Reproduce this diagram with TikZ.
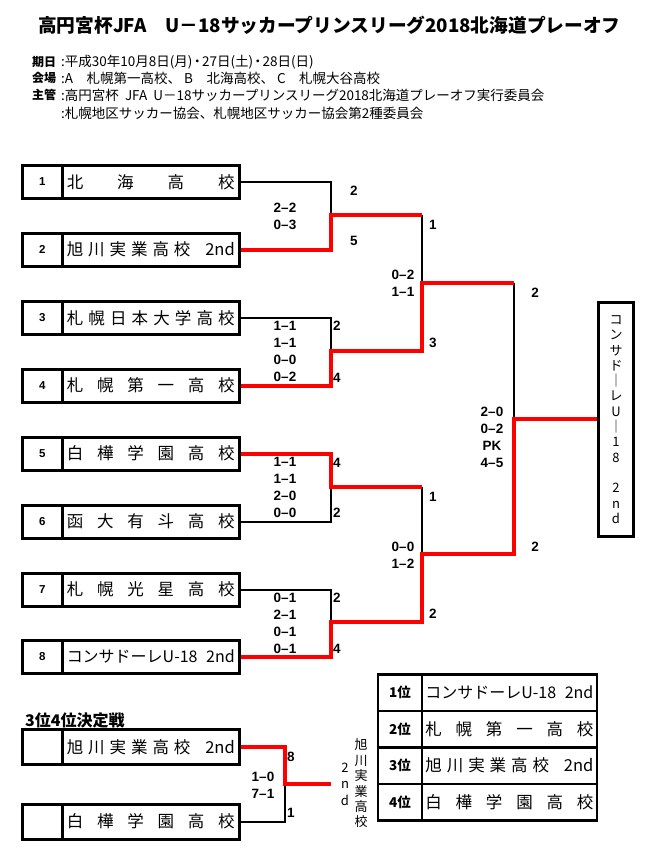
\documentclass[tikz,border=0pt]{standalone}
\usepackage{fontspec}
\setmainfont{Noto Sans CJK JP}
\newfontfamily\latinfont{Liberation Sans}
\newcommand{\spreadname}[1]{\makebox[168pt][s]{#1}}
\newcommand{\consaname}{{\fontsize{16}{18}\selectfont\spreadname{コンサドーレU-18\hfill 2nd}}}

\begin{document}
\begin{tikzpicture}[x=1pt, y=-1pt,
  box/.style={draw, line width=3pt, minimum width=177.5pt, minimum height=33pt,
              inner sep=0pt, font=\fontsize{16.5}{18}\selectfont},
  numcell/.style={draw, line width=3pt, minimum width=39.5pt, minimum height=33pt,
              inner sep=0pt, font=\latinfont\bfseries\fontsize{11.5}{13}\selectfont},
  score/.style={align=center, inner sep=0pt,
              font=\latinfont\bfseries\fontsize{13.5}{17}\selectfont},
  lbl/.style={inner sep=0pt, font=\latinfont\bfseries\fontsize{13.5}{14}\selectfont},
  info/.style={anchor=west, inner sep=0pt, font=\fontsize{13.5}{15}\selectfont},
  vtext/.style={align=center, inner sep=0pt, font=\fontsize{13}{15.4}\selectfont},
  wline/.style={draw=black, line width=2pt},
  rline/.style={draw=winred, line width=4pt}
]
  \definecolor{winred}{HTML}{FF0000}
  \fill[white] (0,0) rectangle (653,855);
  \useasboundingbox (0,0) rectangle (653,855);

  % ================= HEADER =================
  \node[anchor=west, inner sep=0pt, font=\bfseries\fontsize{18.7}{20}\selectfont] (title) at (38,25)
    {高円宮杯JFA　U－18サッカープリンスリーグ2018北海道プレーオフ};
  \node[info, font=\bfseries\fontsize{12}{15}\selectfont] (dateLbl) at (32,62) {期日};
  \node[info] (dateTxt) at (61,62) {:平成30年10月8日(月)\kern-2pt・\kern-2pt27日(土)\kern-2pt・\kern-2pt28日(日)};
  \node[info, font=\bfseries\fontsize{12}{15}\selectfont] (siteLbl) at (32,78) {会場};
  \node[info] (siteTxt) at (61,78) {:A　札幌第一高校、 B　北海高校、 C　札幌大谷高校};
  \node[info, font=\bfseries\fontsize{12}{15}\selectfont] (hostLbl) at (32,95) {主管};
  \node[info] (hostTxt) at (61,95)
    {:高円宮杯\ \ JFA\ \ U－18サッカープリンスリーグ2018北海道プレーオフ実行委員会};
  \node[info] (hostTxtB) at (61,113) {:札幌地区サッカー協会、札幌地区サッカー協会第2種委員会};

  % ================= TEAMS =================
  \node[numcell] (num1) at (42.25,182) {1};
  \node[box] (team1) at (150.75,182) {\spreadname{北\hfill 海\hfill 高\hfill 校}};
  \node[numcell] (num2) at (42.25,249.5) {2};
  \node[box] (team2) at (150.75,249.5)
    {\spreadname{旭\hfill 川\hfill 実\hfill 業\hfill 高\hfill 校\hfill\hfill\hfill 2nd}};
  \node[numcell] (num3) at (42.25,318) {3};
  \node[box] (team3) at (150.75,318)
    {\spreadname{札\hfill 幌\hfill 日\hfill 本\hfill 大\hfill 学\hfill 高\hfill 校}};
  \node[numcell] (num4) at (42.25,385.5) {4};
  \node[box] (team4) at (150.75,385.5)
    {\spreadname{札\hfill 幌\hfill 第\hfill 一\hfill 高\hfill 校}};
  \node[numcell] (num5) at (42.25,453.5) {5};
  \node[box] (team5) at (150.75,453.5)
    {\spreadname{白\hfill 樺\hfill 学\hfill 園\hfill 高\hfill 校}};
  \node[numcell] (num6) at (42.25,521.5) {6};
  \node[box] (team6) at (150.75,521.5)
    {\spreadname{函\hfill 大\hfill 有\hfill 斗\hfill 高\hfill 校}};
  \node[numcell] (num7) at (42.25,589.5) {7};
  \node[box] (team7) at (150.75,589.5)
    {\spreadname{札\hfill 幌\hfill 光\hfill 星\hfill 高\hfill 校}};
  \node[numcell] (num8) at (42.25,656.5) {8};
  \node[box] (team8) at (150.75,656.5) {\consaname};

  % ================= BRACKET =================
  \coordinate (m1) at (331,215);
  \coordinate (m2) at (331,351);
  \coordinate (m3) at (331,487);
  \coordinate (m4) at (331,622);
  \coordinate (s1) at (422,283);
  \coordinate (s2) at (422,554);
  \coordinate (f) at (514,419);

  \node[draw, line width=3pt, minimum width=35pt, minimum height=234pt,
        vtext, font=\fontsize{13}{15.3}\selectfont] (champ) at (616,419.5)
    {コ\\ン\\サ\\ド\\｜\\レ\\U\\｜\\1\\8\\[15.3pt]2\\n\\d};

  \draw[wline] (team1.east) -| (m1);
  \draw[wline] (team3.east) -| (m2);
  \draw[wline] (team6.east) -| (m3);
  \draw[wline] (team7.east) -| (m4);
  \draw[wline] (m1 -| s1) -- (s1);
  \draw[wline] (m3 -| s2) -- (s2);
  \draw[wline] (s1 -| f) -- (f);

  \draw[rline] (team2.east) -| (m1) -- (m1 -| s1);
  \draw[rline] (team4.east) -| (m2) -- (m2 -| s1) -- (s1) -- (s1 -| f);
  \draw[rline] (team5.east) -| (m3) -- (m3 -| s2);
  \draw[rline] (team8.east) -| (m4) -- (m4 -| s2) -- (s2) -| (f) -- (champ.west |- f);

  % scores and goals
  \node[score] (sc1) at (285,216) {2–2\\0–3};
  \node[lbl] (g1a) at (354,191) {2};
  \node[lbl] (g1b) at (354,241) {5};
  \node[score] (sc2) at (285,351.5) {1–1\\1–1\\0–0\\0–2};
  \node[lbl] (g2a) at (337,326) {2};
  \node[lbl] (g2b) at (337,378) {4};
  \node[score] (sc3) at (285,487.5) {1–1\\1–1\\2–0\\0–0};
  \node[lbl] (g3a) at (337,463) {4};
  \node[lbl] (g3b) at (337,513) {2};
  \node[score] (sc4) at (285,623.5) {0–1\\2–1\\0–1\\0–1};
  \node[lbl] (g4a) at (337,598) {2};
  \node[lbl] (g4b) at (337,649) {4};
  \node[score] (sc5) at (403,283.5) {0–2\\1–1};
  \node[lbl] (g5a) at (433,225) {1};
  \node[lbl] (g5b) at (433,343) {3};
  \node[score] (sc6) at (403,555.5) {0–0\\1–2};
  \node[lbl] (g6a) at (433,497) {1};
  \node[lbl] (g6b) at (433,614) {2};
  \node[score] (sc7) at (492,437.5) {2–0\\0–2\\PK\\4–5};
  \node[lbl] (g7a) at (535,293) {2};
  \node[lbl] (g7b) at (535,547) {2};

  % ================= 3RD PLACE =================
  \node[anchor=west, inner sep=0pt, font=\bfseries\fontsize{16}{18}\selectfont] (thirdTitle)
    at (25,720) {3位4位決定戦};
  \node[numcell, minimum height=35pt] (numA) at (42.25,747) {};
  \node[box, minimum height=35pt] (thirdA) at (150.75,747)
    {\spreadname{旭\hfill 川\hfill 実\hfill 業\hfill 高\hfill 校\hfill\hfill\hfill 2nd}};
  \node[numcell, minimum height=35pt] (numB) at (42.25,821.5) {};
  \node[box, minimum height=35pt] (thirdB) at (150.75,821.5)
    {\spreadname{白\hfill 樺\hfill 学\hfill 園\hfill 高\hfill 校}};

  \coordinate (t) at (285,784);
  \coordinate (tend) at (331,784);
  \draw[wline] (thirdB.east) -| (t);
  \draw[rline] (thirdA.east) -| (t) -- (tend);
  \node[score] (sc8) at (263,785) {1–0\\7–1};
  \node[lbl] (g8a) at (291,757) {8};
  \node[lbl] (g8b) at (291,813) {1};
  \node[vtext] (thirdName) at (361,783.5) {旭\\川\\実\\業\\高\\校};
  \node[vtext, font=\fontsize{13}{16.5}\selectfont] (thirdNd) at (345,784) {2\\n\\d};

  % ================= FINAL STANDINGS =================
  \node[draw, line width=2.5pt, minimum width=43.75pt, minimum height=36.5pt,
        inner sep=0pt, font=\bfseries\fontsize{13.5}{15}\selectfont] (rank1) at (400.1,692.5) {1位};
  \node[box, line width=2.5pt, minimum width=174.75pt, minimum height=36.5pt] (res1)
    at (509.4,692.5) {\consaname};
  \node[draw, line width=2.5pt, minimum width=43.75pt, minimum height=36.5pt,
        inner sep=0pt, font=\bfseries\fontsize{13.5}{15}\selectfont] (rank2) at (400.1,729) {2位};
  \node[box, line width=2.5pt, minimum width=174.75pt, minimum height=36.5pt] (res2)
    at (509.4,729) {\spreadname{札\hfill 幌\hfill 第\hfill 一\hfill 高\hfill 校}};
  \node[draw, line width=2.5pt, minimum width=43.75pt, minimum height=36.5pt,
        inner sep=0pt, font=\bfseries\fontsize{13.5}{15}\selectfont] (rank3) at (400.1,765.5) {3位};
  \node[box, line width=2.5pt, minimum width=174.75pt, minimum height=36.5pt] (res3)
    at (509.4,765.5)
    {\spreadname{旭\hfill 川\hfill 実\hfill 業\hfill 高\hfill 校\hfill\hfill\hfill 2nd}};
  \node[draw, line width=2.5pt, minimum width=43.75pt, minimum height=36.5pt,
        inner sep=0pt, font=\bfseries\fontsize{13.5}{15}\selectfont] (rank4) at (400.1,802) {4位};
  \node[box, line width=2.5pt, minimum width=174.75pt, minimum height=36.5pt] (res4)
    at (509.4,802) {\spreadname{白\hfill 樺\hfill 学\hfill 園\hfill 高\hfill 校}};
\end{tikzpicture}
\end{document}
